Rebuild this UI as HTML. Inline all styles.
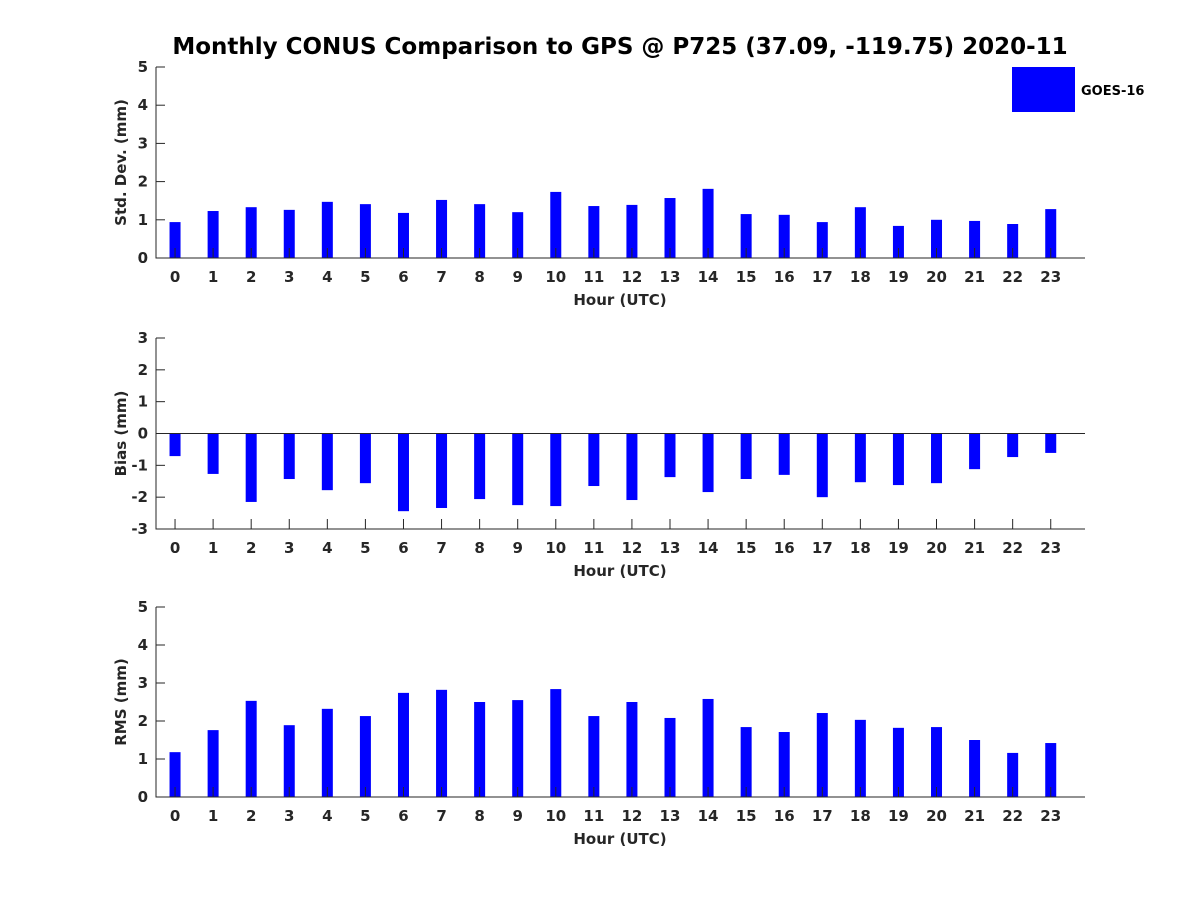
<!DOCTYPE html>
<html><head><meta charset="utf-8"><style>
body{margin:0;background:#fff}
svg text{font-family:"DejaVu Sans","Liberation Sans",sans-serif;font-weight:bold;fill:#262626}
</style></head><body>
<svg id="c" width="1200" height="900" xmlns="http://www.w3.org/2000/svg">
<text x="620" y="54" text-anchor="middle" font-size="23" style="fill:#000">Monthly CONUS Comparison to GPS @ P725 (37.09, -119.75) 2020-11</text>
<rect x="1012" y="67" width="63" height="45" fill="#0000ff"/>
<text x="1081" y="95" font-size="13" style="fill:#000">GOES-16</text>
</svg>
<script>
const hours=[0,1,2,3,4,5,6,7,8,9,10,11,12,13,14,15,16,17,18,19,20,21,22,23];
const stdDev=[0.94,1.23,1.33,1.26,1.47,1.41,1.18,1.52,1.41,1.2,1.73,1.36,1.39,1.57,1.81,1.15,1.13,0.94,1.33,0.84,1.0,0.97,0.89,1.28];
const bias=[-0.71,-1.27,-2.15,-1.43,-1.78,-1.56,-2.44,-2.34,-2.06,-2.25,-2.28,-1.65,-2.09,-1.37,-1.84,-1.43,-1.3,-2.0,-1.53,-1.62,-1.56,-1.12,-0.74,-0.61];
const rms=[1.18,1.76,2.53,1.89,2.32,2.13,2.74,2.82,2.5,2.55,2.84,2.13,2.5,2.08,2.58,1.84,1.71,2.21,2.03,1.82,1.84,1.5,1.16,1.42];
const stdTicks=[0,1,2,3,4,5];
const biasTicks=[-3,-2,-1,0,1,2,3];
const rmsTicks=[0,1,2,3,4,5];
const svg=document.getElementById('c');
const NS='http://www.w3.org/2000/svg';
function mk(tag,attrs,parent){const e=document.createElementNS(NS,tag);for(const k in attrs)e.setAttribute(k,attrs[k]);(parent||svg).appendChild(e);return e;}
const X0=156,X1=1085;
function xs(h){return X0+(h+0.5)/24.4*(X1-X0);}
function panel(name,vals,ticks,top,bottom,ylab,zeroLine){
  const g=mk('g',{});
  
  
  const lo=ticks[0],hi=ticks[ticks.length-1];
  const ys=v=>bottom-(v-lo)/(hi-lo)*(bottom-top);
  vals.forEach((v,i)=>{
    const y0=ys(0),y1=ys(v);
    const r=mk('rect',{x:xs(hours[i])-5.5,y:Math.min(y0,y1),width:11,height:Math.abs(y1-y0),fill:'#0000ff'},g);
    
    
  });
  if(zeroLine){const z=mk('line',{x1:X0,x2:X1,y1:ys(0),y2:ys(0),stroke:'#262626','stroke-width':1},g);
    }
  const ax=mk('path',{d:`M${X0},${top}V${bottom}H${X1}`,fill:'none',stroke:'#262626','stroke-width':1},g);
  
  ticks.forEach(t=>{
    mk('line',{x1:X0,x2:X0+9,y1:ys(t),y2:ys(t),stroke:'#262626'},g);
    const tx=mk('text',{x:X0-8,y:ys(t)+5,'text-anchor':'end','font-size':15},g);
    tx.textContent=t;
    
    
  });
  hours.forEach(h=>{
    mk('line',{x1:xs(h),x2:xs(h),y1:bottom,y2:bottom-10,stroke:'#262626'},g);
    const tx=mk('text',{x:xs(h),y:bottom+24,'text-anchor':'middle','font-size':15},g);
    tx.textContent=h;
    
    
  });
  const xl=mk('text',{x:620,y:bottom+47,'text-anchor':'middle','font-size':15},g);
  xl.textContent='Hour (UTC)';
  
  
  const cy=(top+bottom)/2;
  const yl=mk('text',{x:126,y:cy,'text-anchor':'middle','font-size':15,transform:`rotate(-90 126 ${cy})`},g);
  yl.textContent=ylab;
  
  
}
panel('std-dev',stdDev,stdTicks,67,258,'Std. Dev. (mm)',false);
panel('bias',bias,biasTicks,338,529,'Bias (mm)',true);
panel('rms',rms,rmsTicks,607,797,'RMS (mm)',false);
</script>
</body></html>
